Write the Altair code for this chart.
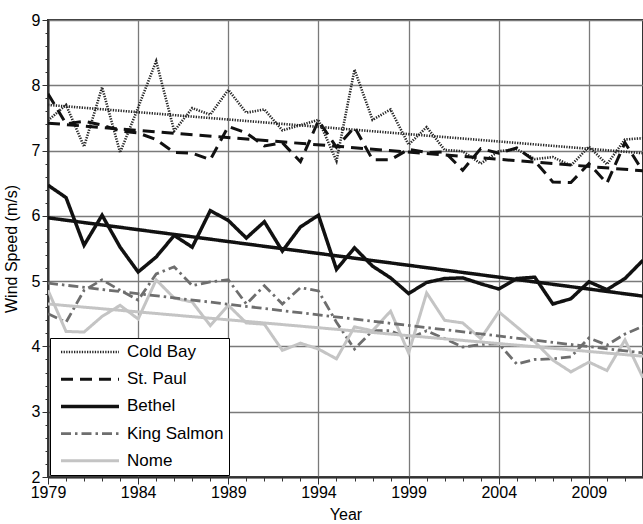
import altair as alt
import pandas as pd

# Annual mean wind speed (m/s) at five Alaskan stations, 1979-2012
years = list(range(1979, 2013))
stations = ["Cold Bay", "St. Paul", "Bethel", "King Salmon", "Nome"]

cold_bay = [7.46, 7.70, 7.06, 7.97, 6.97, 7.66, 8.37, 7.30, 7.65, 7.55,
            7.93, 7.58, 7.63, 7.31, 7.39, 7.47, 6.84, 8.24, 7.47, 7.63,
            7.09, 7.36, 7.01, 6.99, 6.80, 6.99, 7.02, 6.87, 6.90, 6.77,
            7.06, 6.79, 7.17, 7.19]
st_paul = [7.87, 7.41, 7.45, 7.39, 7.30, 7.27, 7.17, 6.97, 6.96, 6.86,
           7.37, 7.27, 7.07, 7.12, 6.83, 7.46, 7.05, 7.36, 6.86, 6.86,
           7.02, 6.97, 6.98, 6.70, 7.03, 6.96, 7.04, 6.84, 6.52, 6.51,
           6.80, 6.50, 7.12, 6.68]
bethel = [6.47, 6.28, 5.55, 6.01, 5.52, 5.14, 5.37, 5.70, 5.52, 6.08,
          5.93, 5.66, 5.91, 5.46, 5.83, 6.01, 5.18, 5.51, 5.23, 5.05,
          4.81, 4.98, 5.04, 5.05, 4.96, 4.88, 5.04, 5.06, 4.65, 4.73,
          4.99, 4.87, 5.04, 5.32]
king_salmon = [4.50, 4.37, 4.86, 5.02, 4.86, 4.71, 5.11, 5.22, 4.93, 4.99,
               5.02, 4.65, 4.93, 4.65, 4.90, 4.85, 4.37, 3.96, 4.24, 4.24,
               4.12, 4.24, 4.12, 3.99, 4.03, 4.04, 3.73, 3.80, 3.81, 3.84,
               4.13, 4.02, 4.19, 4.31]
nome = [4.86, 4.23, 4.22, 4.46, 4.63, 4.42, 5.02, 4.74, 4.68, 4.32,
        4.63, 4.36, 4.34, 3.94, 4.05, 3.96, 3.81, 4.30, 4.24, 4.54,
        3.90, 4.82, 4.40, 4.36, 4.12, 4.53, 4.30, 4.07, 3.79, 3.61,
        3.76, 3.63, 4.10, 3.52]

# Linear trend end points (first and last year) for each station
trend_years = [1979, 2012]
trend_start = [7.70, 7.42, 5.97, 4.97, 4.65]
trend_end = [6.96, 6.69, 4.77, 3.90, 3.85]

# Line styles per station
line_colors = ["#262626", "#111111", "#111111", "#6e6e6e", "#c4c4c4"]
line_dashes = [[1.3, 1.3], [12, 7], [1, 0], [10, 4, 2.5, 4], [1, 0]]
line_widths = [2.6, 3, 3.5, 2.8, 3]

series = [cold_bay, st_paul, bethel, king_salmon, nome]
rows = []
for name, values in zip(stations, series):
    for yr, v in zip(years, values):
        rows.append({"station": name, "kind": "obs", "year": yr, "speed": v})
for name, a, b in zip(stations, trend_start, trend_end):
    for yr, v in zip(trend_years, [a, b]):
        rows.append({"station": name, "kind": "trend", "year": yr, "speed": v})
df = pd.DataFrame(rows)

major_x = "(datum.value - 1979) % 5 === 0"
x_axis = alt.Axis(
    values=years,
    labelExpr=f"{major_x} ? datum.value : ''",
    labelFlush=False,
    labelOverlap=False,
    tickSize={"condition": {"test": major_x, "value": 7}, "value": 4},
    gridOpacity={"condition": {"test": major_x, "value": 1}, "value": 0},
    labelPadding=0,
    titlePadding=6,
)

y_ticks = [round(2 + 0.2 * i, 1) for i in range(36)]
major_y = "abs(datum.value - round(datum.value)) < 0.001"
y_axis = alt.Axis(
    values=y_ticks,
    labelExpr=f"{major_y} ? round(datum.value) : ''",
    labelOverlap=False,
    tickSize={"condition": {"test": major_y, "value": 6}, "value": 3},
    gridOpacity={"condition": {"test": major_y, "value": 1}, "value": 0},
    labelPadding=2,
    titlePadding=12,
)

legend = alt.Legend(
    title=None,
    orient="none",
    legendX=2,
    legendY=318,
    symbolType="stroke",
    symbolSize=3364,
    clipHeight=18,
    rowPadding=9.2,
    padding=5,
    symbolOffset=4,
    labelOffset=6,
    labelFontSize=17,
    labelFont="Liberation Sans",
    labelColor="black",
    fillColor="white",
    strokeColor="black",
)

chart = (
    alt.Chart(df)
    .mark_line(strokeJoin="miter", clip=True)
    .encode(
        x=alt.X("year:Q", title="Year",
                scale=alt.Scale(domain=[1979, 2012], nice=False, zero=False),
                axis=x_axis),
        y=alt.Y("speed:Q", title="Wind Speed (m/s)",
                scale=alt.Scale(domain=[2, 9], nice=False, zero=False),
                axis=y_axis),
        color=alt.Color("station:N", scale=alt.Scale(domain=stations, range=line_colors),
                        legend=legend),
        strokeDash=alt.StrokeDash("station:N", scale=alt.Scale(domain=stations, range=line_dashes),
                                  legend=legend),
        strokeWidth=alt.StrokeWidth("station:N",
                                    scale=alt.Scale(type="ordinal", domain=stations, range=line_widths),
                                    legend=legend),
        detail="kind:N",
    )
    .properties(
        width=595,
        height=457,
        autosize=alt.AutoSizeParams(type="none"),
        padding={"left": 48, "top": 20, "right": 0, "bottom": 47},
        background="white",
    )
    .configure_view(stroke="#333333", strokeWidth=2)
    .configure_axis(
        labelFont="Liberation Sans",
        labelFontSize=16,
        labelColor="black",
        titleFont="Liberation Sans",
        titleFontSize=16,
        titleFontWeight="normal",
        titleColor="black",
        domainColor="#333333",
        domainWidth=2,
        tickColor="#333333",
        tickWidth=1,
        gridColor="#7a7a7a",
        gridWidth=1.3,
    )
)

chart.save("out.html", embed_options={"renderer": "svg", "actions": False})
